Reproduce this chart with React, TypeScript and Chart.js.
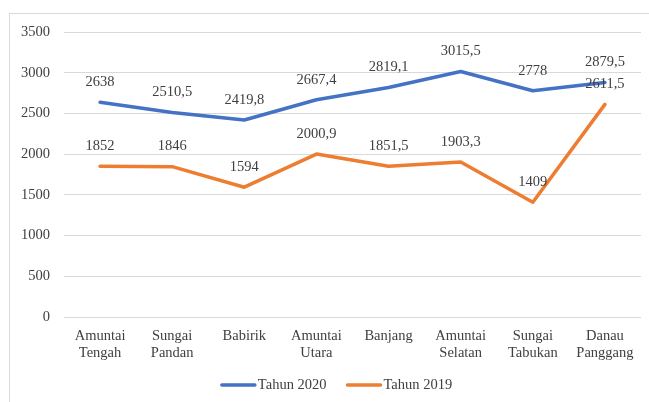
import React, { useEffect, useRef } from "react";
import { Chart, registerables } from "chart.js";

Chart.register(...registerables);

const categories: string[][] = [
  ["Amuntai", "Tengah"],
  ["Sungai", "Pandan"],
  ["Babirik"],
  ["Amuntai", "Utara"],
  ["Banjang"],
  ["Amuntai", "Selatan"],
  ["Sungai", "Tabukan"],
  ["Danau", "Panggang"],
];
const seriesNames = ["Tahun 2020", "Tahun 2019"];
const values2020 = [2638, 2510.5, 2419.8, 2667.4, 2819.1, 3015.5, 2778, 2879.5];
const values2019 = [1852, 1846, 1594, 2000.9, 1851.5, 1903.3, 1409, 2611.5];
const yMin = 0;
const yMax = 3500;
const yStep = 500;

const FONT = "'Liberation Serif', 'Times New Roman', serif";
const TEXT = "#404040";
const BLUE = "#4472C4";
const ORANGE = "#ED7D31";

const fmt = (v: number) => String(v).replace(".", ",");

const labelPlugin = {
  id: "valueLabels",
  afterDatasetsDraw(chart: any) {
    const ctx = chart.ctx;
    ctx.save();
    ctx.font = `14.5px ${FONT}`;
    ctx.fillStyle = TEXT;
    ctx.textAlign = "center";
    ctx.textBaseline = "middle";
    chart.data.datasets.forEach((ds: any, i: number) => {
      const meta = chart.getDatasetMeta(i);
      meta.data.forEach((pt: any, j: number) => {
        ctx.fillText(fmt(ds.data[j]), pt.x, pt.y - 20);
      });
    });
    ctx.restore();
  },
};

const legendPlugin = {
  id: "customLegend",
  afterDraw(chart: any) {
    const ctx = chart.ctx;
    ctx.save();
    ctx.font = `14.5px ${FONT}`;
    const lineLen = 35;
    const gapText = 2;
    const gapItems = 20;
    const items = chart.data.datasets.map((ds: any) => ({
      label: ds.label,
      color: ds.borderColor,
      w: ctx.measureText(ds.label).width,
    }));
    const total =
      items.reduce((s: number, it: any) => s + lineLen + gapText + it.w, 0) +
      gapItems * (items.length - 1);
    let x = 336.5 - total / 2;
    const y = 385;
    items.forEach((it: any) => {
      ctx.strokeStyle = it.color;
      ctx.lineWidth = 3.5;
      ctx.lineCap = "round";
      ctx.beginPath();
      ctx.moveTo(x + 1, y);
      ctx.lineTo(x + lineLen - 1, y);
      ctx.stroke();
      x += lineLen + gapText;
      ctx.fillStyle = TEXT;
      ctx.textAlign = "left";
      ctx.textBaseline = "middle";
      ctx.fillText(it.label, x, y);
      x += it.w + gapItems;
    });
    ctx.restore();
  },
};

export default function App() {
  const ref = useRef<HTMLCanvasElement | null>(null);

  useEffect(() => {
    if (!ref.current) return;
    const chart = new Chart(ref.current, {
      type: "line",
      data: {
        labels: categories,
        datasets: [
          {
            label: seriesNames[0],
            data: values2020,
            borderColor: BLUE,
            backgroundColor: BLUE,
            borderWidth: 3.5,
            pointRadius: 0,
            tension: 0,
            borderJoinStyle: "round",
            borderCapStyle: "round",
          },
          {
            label: seriesNames[1],
            data: values2019,
            borderColor: ORANGE,
            backgroundColor: ORANGE,
            borderWidth: 3.5,
            pointRadius: 0,
            tension: 0,
            borderJoinStyle: "round",
            borderCapStyle: "round",
          },
        ],
      },
      options: {
        animation: false,
        responsive: false,
        maintainAspectRatio: false,
        layout: { padding: { top: 32, right: 8, bottom: 40, left: 0 } },
        plugins: {
          legend: { display: false },
          tooltip: { enabled: false },
        },
        scales: {
          x: {
            offset: true,
            grid: { display: false, drawTicks: false },
            border: { display: false },
            ticks: {
              color: TEXT,
              font: { family: FONT, size: 14.5, lineHeight: 1.2 },
              padding: 10,
              maxRotation: 0,
              autoSkip: false,
            },
            afterFit(scale: any) {
              scale.height = 45;
            },
          },
          y: {
            min: yMin,
            max: yMax,
            grid: { color: "#d9d9d9", lineWidth: 1, drawTicks: false },
            border: { display: false },
            ticks: {
              stepSize: yStep,
              color: TEXT,
              font: { family: FONT, size: 14.5 },
              padding: 14,
              callback: (v: any) => String(v),
            },
            afterFit(scale: any) {
              scale.width = 64;
            },
          },
        },
      },
      plugins: [labelPlugin, legendPlugin],
    });
    return () => chart.destroy();
  }, []);

  return (
    <>
      <div
        style={{
          position: "fixed",
          left: 9,
          top: 13,
          width: 700,
          height: 500,
          border: "1px solid #d9d9d9",
          boxSizing: "border-box",
        }}
      />
      <canvas
        ref={ref}
        width={649}
        height={402}
        style={{ position: "fixed", left: 0, top: 0, width: 649, height: 402 }}
      />
    </>
  );
}
